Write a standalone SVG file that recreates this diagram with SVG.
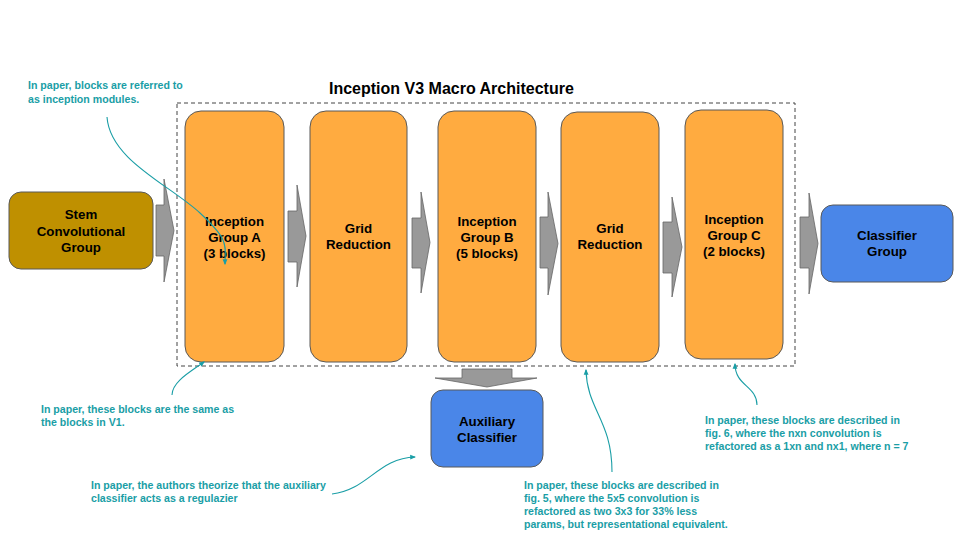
<svg xmlns="http://www.w3.org/2000/svg" width="960" height="540" viewBox="0 0 960 540">
<defs>
<style>
.node{stroke:#595959;stroke-width:1}
.orange{fill:#ffab40}
.blue{fill:#4a86e8}
.gold{fill:#bf9000}
.lbl{font-family:"Liberation Sans",Arial,sans-serif;font-weight:bold;font-size:13.3px;fill:#000;text-anchor:middle}
.note{font-family:"Liberation Sans",Arial,sans-serif;font-weight:bold;font-size:10.6px;fill:#1a9ea6}
.arrow{fill:#999999;stroke:#666666;stroke-width:0.8}
.link{fill:none;stroke:#1a9ea6;stroke-width:1.1;marker-end:url(#tip)}
</style>
<marker id="tip" viewBox="0 0 10 10" refX="8" refY="5" markerWidth="6" markerHeight="6" orient="auto-start-reverse" markerUnits="userSpaceOnUse">
<path d="M0,1 L10,5 L0,9 z" fill="#1a9ea6"/>
</marker>
</defs>
<rect width="960" height="540" fill="#ffffff"/>

<text x="329" y="94" font-family="Liberation Sans, Arial, sans-serif" font-weight="bold" font-size="16" fill="#000">Inception V3 Macro Architecture</text>
<rect id="container" x="177" y="103" width="618" height="263" fill="none" stroke="#444" stroke-width="1" stroke-dasharray="4,3"/>

<g id="connectors">
<polygon class="arrow" points="156,205 164,205 164,179 174,230.5 164,282 164,256 156,256"/>
<polygon class="arrow" points="288,211 297,211 297,185 306,236 297,287 297,262 288,262"/>
<polygon class="arrow" points="412,218 421,218 421,192 430,242.5 421,293 421,268 412,268"/>
<polygon class="arrow" points="540,217 548,217 548,192 558,243.5 548,295 548,268 540,268"/>
<polygon class="arrow" points="663,222 672,222 672,197 682,247 672,297 672,273 663,273"/>
<polygon class="arrow" points="800,217 809,217 809,193 818,243.5 809,294 809,268 800,268"/>
<polygon class="arrow" points="462,369 512,369 512,378 537,378 487,387 435,378 462,378"/>
</g>

<g id="stem">
<rect class="node gold" x="9" y="192" width="144" height="77" rx="12"/>
<text class="lbl" x="81" y="219">Stem</text>
<text class="lbl" x="81" y="236">Convolutional</text>
<text class="lbl" x="81" y="252">Group</text>
</g>
<g id="groupA">
<rect class="node orange" x="185" y="111" width="99" height="251" rx="16"/>
<text class="lbl" x="234.5" y="226">Inception</text>
<text class="lbl" x="234.5" y="242">Group A</text>
<text class="lbl" x="234.5" y="258">(3 blocks)</text>
</g>
<g id="grid1">
<rect class="node orange" x="310" y="111" width="97" height="251" rx="16"/>
<text class="lbl" x="358.5" y="233">Grid</text>
<text class="lbl" x="358.5" y="249">Reduction</text>
</g>
<g id="groupB">
<rect class="node orange" x="438" y="111" width="98" height="251" rx="16"/>
<text class="lbl" x="487" y="226">Inception</text>
<text class="lbl" x="487" y="242">Group B</text>
<text class="lbl" x="487" y="258">(5 blocks)</text>
</g>
<g id="grid2">
<rect class="node orange" x="561" y="112" width="98" height="250" rx="16"/>
<text class="lbl" x="610" y="233">Grid</text>
<text class="lbl" x="610" y="249">Reduction</text>
</g>
<g id="groupC">
<rect class="node orange" x="685" y="110" width="98" height="249" rx="16"/>
<text class="lbl" x="734" y="224">Inception</text>
<text class="lbl" x="734" y="240">Group C</text>
<text class="lbl" x="734" y="256">(2 blocks)</text>
</g>
<g id="classifier">
<rect class="node blue" x="821" y="205" width="132" height="77" rx="12"/>
<text class="lbl" x="887" y="240">Classifier</text>
<text class="lbl" x="887" y="256">Group</text>
</g>
<g id="auxiliary">
<rect class="node blue" x="431" y="390" width="112" height="77" rx="12"/>
<text class="lbl" x="487" y="426">Auxiliary</text>
<text class="lbl" x="487" y="442">Classifier</text>
</g>

<g id="annotation-links">
<path class="link" d="M107,117 C110,160 170,185 200,213 S225,245 225,264"/>
<path class="link" d="M172,395 C172,382 190,372 204,362"/>
<path class="link" d="M332,494 C368,490 378,458 415,457"/>
<path class="link" d="M612,472 C612,420 587,410 586,370"/>
<path class="link" d="M757,405 C757,386 735,386 735,364"/>
</g>

<g id="note1">
<text class="note" x="28" y="89">In paper, blocks are referred to</text>
<text class="note" x="28" y="102.5">as inception modules.</text>
</g>
<g id="note2">
<text class="note" x="41" y="413">In paper, these blocks are the same as</text>
<text class="note" x="41" y="426">the blocks in V1.</text>
</g>
<g id="note3">
<text class="note" x="91" y="489">In paper, the authors theorize that the auxiliary</text>
<text class="note" x="91" y="502">classifier acts as a regulazier</text>
</g>
<g id="note4">
<text class="note" x="524" y="489">In paper, these blocks are described in</text>
<text class="note" x="524" y="502">fig. 5, where the 5x5 convolution is</text>
<text class="note" x="524" y="515">refactored as two 3x3 for 33% less</text>
<text class="note" x="524" y="528">params, but representational equivalent.</text>
</g>
<g id="note5">
<text class="note" x="705" y="424">In paper, these blocks are described in</text>
<text class="note" x="705" y="437">fig. 6, where the nxn convolution is</text>
<text class="note" x="705" y="450">refactored as a 1xn and nx1, where n = 7</text>
</g>
</svg>
